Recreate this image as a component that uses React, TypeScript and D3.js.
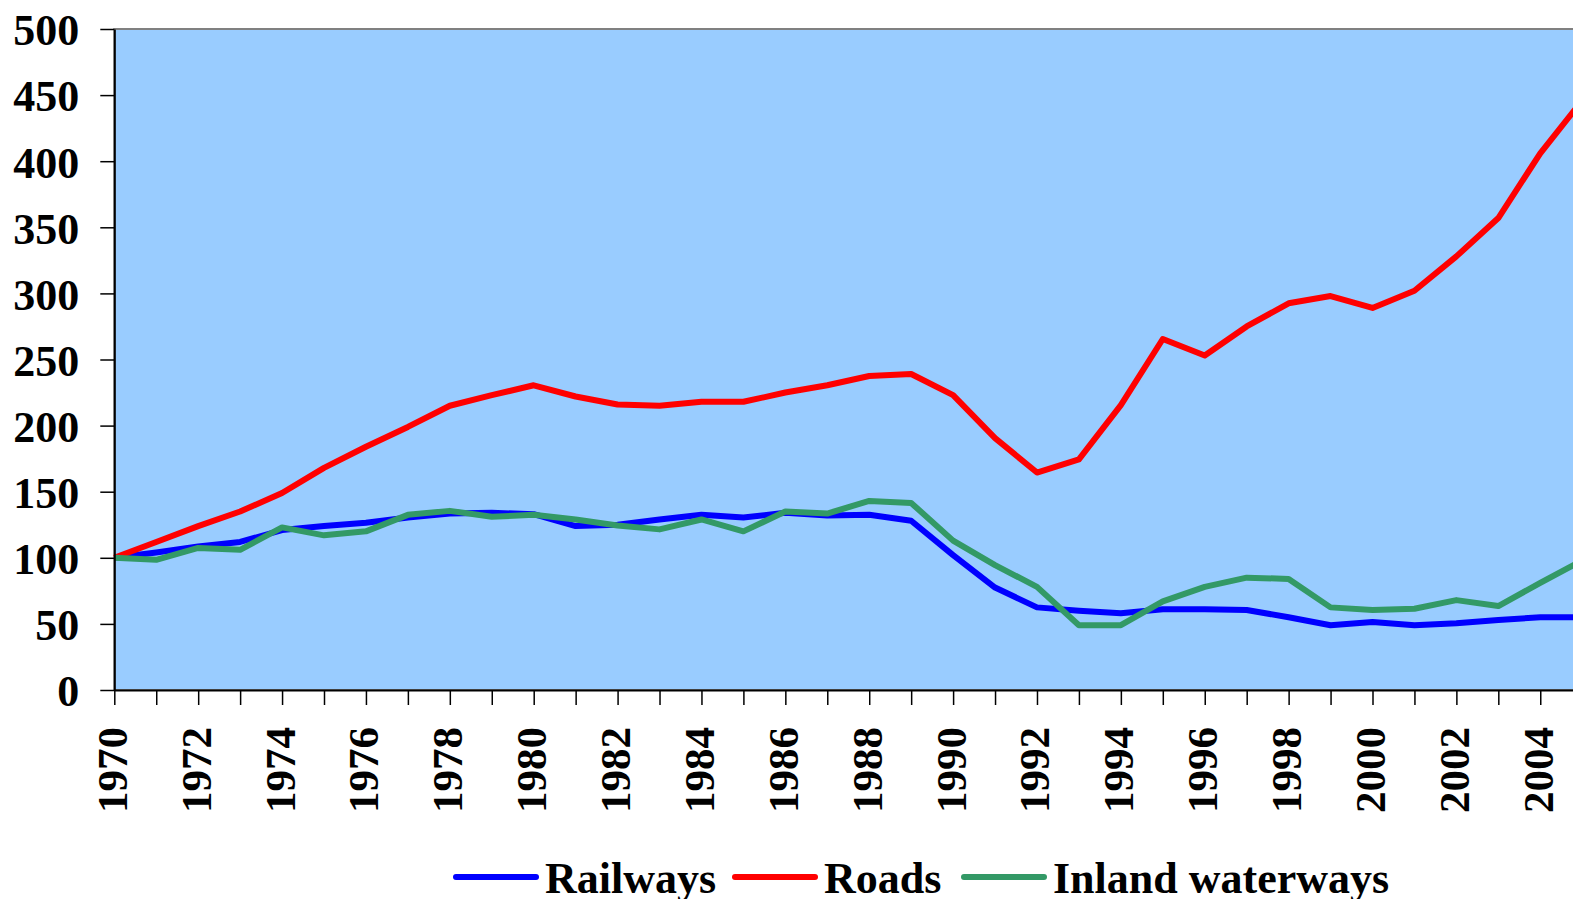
import React, { useEffect, useRef } from 'react';
import * as d3 from 'd3';

const years = d3.range(1970, 2006);

const railways = [100, 104, 108.5, 112, 121, 124, 126.5, 130.5, 133.5, 134, 133, 124, 125, 129, 132.5, 130.5, 134, 132, 132.5, 128, 102, 77.5, 62.5, 60, 58, 61, 61, 60.5, 55, 49, 51.5, 49, 50.5, 53, 55, 55];
const roads = [100, 112, 124, 135, 149, 168, 184, 199, 215, 223, 230.5, 222, 216, 215, 218, 218, 225, 230.5, 237.5, 239, 223, 190.5, 164.5, 174.5, 215.5, 265.5, 253, 275, 292.5, 298, 289, 302, 328, 357, 406, 446];
const waterways = [100, 98.5, 107.5, 106, 123, 117, 120, 132.5, 135.5, 131, 132.5, 129, 124.5, 121.5, 129, 120, 135, 133.5, 143, 141.5, 113, 94.5, 78, 49, 49, 67, 78, 85, 84, 62.5, 60.5, 61.5, 68, 63.5, 81, 98];

const yTicks = [0, 50, 100, 150, 200, 250, 300, 350, 400, 450, 500];

const seriesNames = ['Railways', 'Roads', 'Inland waterways'];
const seriesColors = ['#0000ff', '#ff0000', '#339966'];

const W = 1573;
const H = 899;
const FONT = '"Liberation Serif", "Times New Roman", serif';

const App = () => {
  const svgRef = useRef<SVGSVGElement>(null);

  useEffect(() => {
    const svg = d3.select(svgRef.current);
    svg.selectAll('*').remove();

    const left = 114.3;
    const top = 29;
    const bottom = 690;

    const x = d3.scaleLinear().domain([1970, 2005]).range([left, left + 35 * 41.94]);
    const y = d3.scaleLinear().domain([0, 500]).range([bottom, top]);

    // plot area
    svg
      .append('rect')
      .attr('x', left)
      .attr('y', top)
      .attr('width', x(2005) - left + 10)
      .attr('height', bottom - top)
      .attr('fill', '#99ccff')
      .attr('stroke', '#808080')
      .attr('stroke-width', 2);

    // lines
    const allSeries = [railways, roads, waterways];
    const line = d3
      .line<number>()
      .x((_, i) => x(years[i]))
      .y(d => y(d));

    allSeries.forEach((vals, i) => {
      svg
        .append('path')
        .datum(vals)
        .attr('fill', 'none')
        .attr('stroke', seriesColors[i])
        .attr('stroke-width', 6)
        .attr('stroke-linejoin', 'round')
        .attr('d', line);
    });

    // y axis
    const yAxis = svg
      .append('g')
      .attr('transform', `translate(${left}, 0)`)
      .call(d3.axisLeft(y).tickValues(yTicks).tickSize(14).tickSizeOuter(0).tickPadding(21));
    yAxis.select('.domain').attr('stroke', '#000').attr('stroke-width', 2);
    yAxis.selectAll('.tick line').attr('stroke', '#000').attr('stroke-width', 1.5);
    yAxis
      .selectAll('text')
      .style('font-family', FONT)
      .style('font-size', '44px')
      .style('font-weight', 'bold')
      .attr('fill', '#000')
      .attr('dy', '0.36em');

    // x axis
    const xAxis = svg
      .append('g')
      .attr('transform', `translate(0, ${bottom})`)
      .call(d3.axisBottom(x).tickValues(years).tickSize(15).tickSizeOuter(0).tickFormat(() => ''));
    xAxis.select('.domain').attr('stroke', '#000').attr('stroke-width', 2);
    xAxis.selectAll('.tick line').attr('stroke', '#000').attr('stroke-width', 1.5);

    svg
      .append('g')
      .selectAll('text')
      .data(years.filter(d => d % 2 === 0))
      .enter()
      .append('text')
      .attr('transform', d => `translate(${x(d) - 3}, ${bottom + 37}) rotate(-90)`)
      .attr('text-anchor', 'end')
      .attr('dy', '0.36em')
      .style('font-family', FONT)
      .style('font-size', '43px')
      .style('font-weight', 'bold')
      .text(d => String(d));

    // legend
    const legendX = [456, 735, 964];
    const legend = svg
      .selectAll('.legend')
      .data(seriesNames)
      .enter()
      .append('g')
      .attr('transform', (_, i) => `translate(${legendX[i]}, 877)`);

    legend
      .append('line')
      .attr('x1', 0)
      .attr('x2', 80)
      .attr('y1', 0)
      .attr('y2', 0)
      .attr('stroke', (_, i) => seriesColors[i])
      .attr('stroke-width', 6)
      .attr('stroke-linecap', 'round');

    legend
      .append('text')
      .attr('x', 89)
      .attr('y', 16)
      .style('font-family', FONT)
      .style('font-size', '44px')
      .style('font-weight', 'bold')
      .text(d => d);
  }, []);

  return (
    <svg
      ref={svgRef}
      width={W}
      height={H}
      style={{ position: 'fixed', left: 0, top: 0, background: '#fff', display: 'block' }}
    ></svg>
  );
};

export default App;
